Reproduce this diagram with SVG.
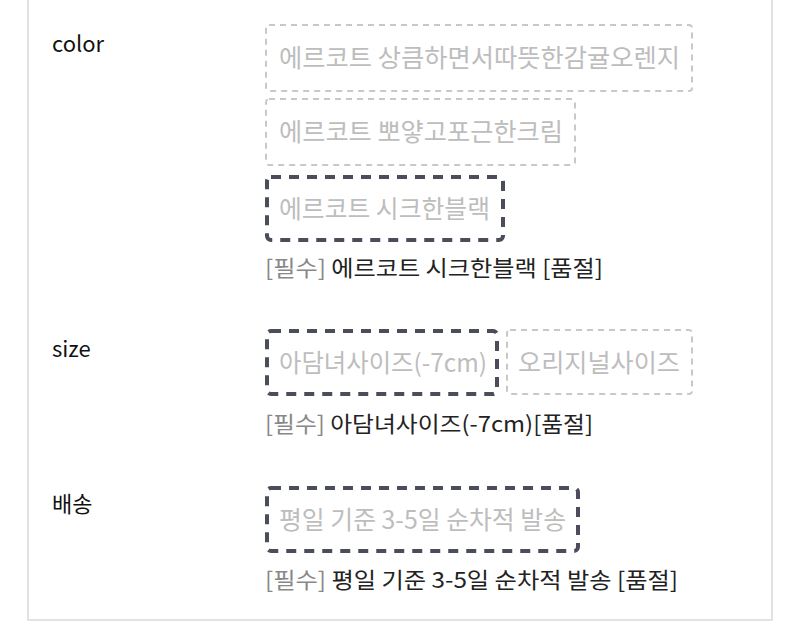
<svg xmlns="http://www.w3.org/2000/svg" width="800" height="629" viewBox="0 0 800 629">
<style>
text{font-family:"Noto Sans CJK KR","Noto Sans",sans-serif}
.lab{font-size:22px;fill:#111}
.opt{fill:#fff;stroke:#c8c8c8;stroke-width:2;stroke-dasharray:6 5}
.sel{fill:#fff;stroke:#4a4d5a;stroke-width:4;stroke-dasharray:10 8}
.ot{font-size:25px;fill:#bdbdbd}
.note{font-size:22px;fill:#222}
.g{fill:#888}
</style>
<rect width="800" height="629" fill="#fff"/>
<rect x="28" y="-10" width="744" height="630" fill="#fff" stroke="#e2e2e2" stroke-width="2"/>
<text class="lab" x="52" y="52">color</text>
<text class="lab" x="52" y="357">size</text>
<text class="lab" x="52" y="512">배송</text>
<g id="opt1"><rect class="opt" x="266" y="25" width="426" height="66" rx="3"/><text class="ot" x="279" y="67" textLength="401" lengthAdjust="spacingAndGlyphs">에르코트 상큼하면서따뜻한감귤오렌지</text></g>
<g id="opt2"><rect class="opt" x="266" y="99" width="309" height="66" rx="3"/><text class="ot" x="279" y="141" textLength="284" lengthAdjust="spacingAndGlyphs">에르코트 뽀얗고포근한크림</text></g>
<g id="opt3"><rect class="sel" x="267" y="177" width="236" height="63" rx="4"/><text class="ot" x="279" y="218" textLength="211" lengthAdjust="spacingAndGlyphs">에르코트 시크한블랙</text></g>
<text class="note" x="265" y="276" textLength="338" lengthAdjust="spacingAndGlyphs"><tspan class="g">[필수]</tspan> 에르코트 시크한블랙 [품절]</text>
<g id="size1"><rect class="sel" x="267" y="331" width="230" height="63" rx="4"/><text class="ot" x="279" y="372" textLength="208" lengthAdjust="spacingAndGlyphs">아담녀사이즈(-7cm)</text></g>
<g id="size2"><rect class="opt" x="507" y="330" width="185" height="64" rx="3"/><text class="ot" x="518" y="372" textLength="162" lengthAdjust="spacingAndGlyphs">오리지널사이즈</text></g>
<text class="note" x="265" y="432" textLength="328" lengthAdjust="spacingAndGlyphs"><tspan class="g">[필수]</tspan> 아담녀사이즈(-7cm)[품절]</text>
<g id="ship1"><rect class="sel" x="267" y="488" width="311" height="63" rx="4"/><text class="ot" x="279" y="529" textLength="287" lengthAdjust="spacingAndGlyphs">평일 기준 3-5일 순차적 발송</text></g>
<text class="note" x="265" y="588" textLength="413" lengthAdjust="spacingAndGlyphs"><tspan class="g">[필수]</tspan> 평일 기준 3-5일 순차적 발송 [품절]</text>
<g id="connectors"/>
</svg>
